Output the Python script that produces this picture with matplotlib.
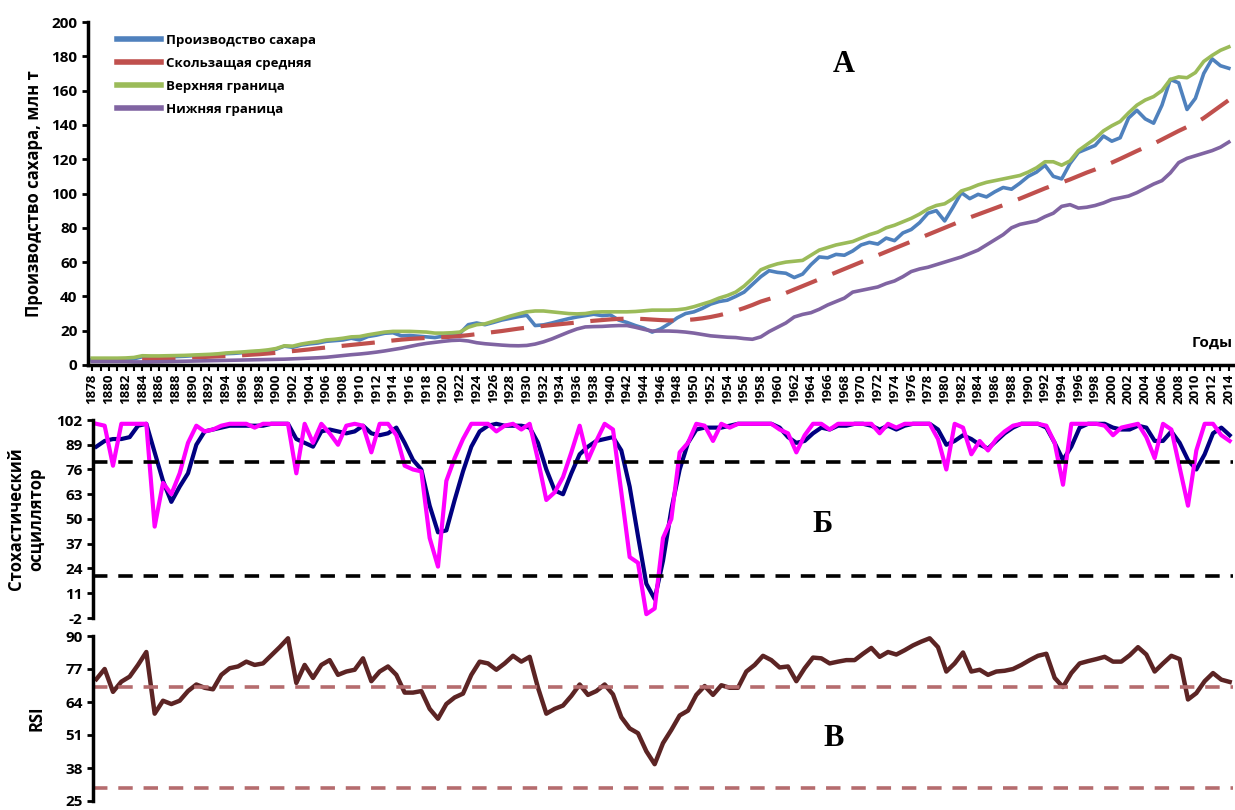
import numpy as np
import matplotlib
matplotlib.use("Agg")
import matplotlib.pyplot as plt

plt.rcParams['font.family'] = ['Open Sans', 'DejaVu Sans']
plt.rcParams['font.weight'] = 'bold'
plt.rcParams['axes.unicode_minus'] = False

years = list(range(1878, 2015))

# Panel A: sugar production, mln t
production = [
    3.0, 3.1, 3.2, 3.3, 3.4, 3.6, 4.8, 4.2, 4.6, 4.8, 4.9, 5.1,
    5.4, 5.6, 5.8, 6.1, 6.6, 6.8, 7.2, 7.6, 7.9, 8.4,
    9.2, 11.0, 10.3, 11.6, 12.3, 12.8, 13.8, 14.2, 14.6, 15.6,
    14.6, 16.6, 17.4, 18.5, 18.8, 17.0, 17.2, 16.8, 16.4, 16.0,
    16.8, 17.2, 18.4, 23.5, 24.5, 23.5, 24.8, 26.2, 27.2, 28.2,
    29.0, 23.0, 23.4, 24.5, 25.8, 27.0, 28.0, 28.8, 29.6, 28.8,
    29.2, 26.2, 24.8, 23.0, 21.5, 19.2, 21.0, 24.0, 27.5, 30.0,
    31.0, 33.0, 35.5, 37.0, 37.8, 40.0, 42.5, 47.0, 51.5, 55.0,
    54.0, 53.5, 51.0, 53.0, 58.5, 63.0, 62.5, 64.5, 64.0, 66.5,
    70.0, 71.5, 70.5, 74.0, 72.5, 77.0, 79.0, 83.0, 88.5, 90.0,
    84.0, 92.0, 100.5, 97.0, 99.5, 98.0, 101.0, 103.5, 102.5, 106.0,
    110.0, 112.5, 116.5, 110.0, 108.5, 117.5, 124.0, 126.0, 128.0, 133.5,
    130.5, 132.5, 144.0, 148.5, 143.5, 141.0, 151.5, 166.5, 164.5, 149.0,
    155.5, 170.0, 178.5, 174.5, 173.0]

moving_avg = [
    2.5, 2.6, 2.7, 2.8, 2.9, 3.0, 3.2, 3.4, 3.6, 3.8, 4.0, 4.2,
    4.4, 4.6, 4.8, 5.0, 5.2, 5.4, 5.7, 6.0, 6.3, 6.7,
    7.1, 7.6, 8.1, 8.6, 9.1, 9.7, 10.2, 10.7, 11.2, 11.7,
    12.2, 12.7, 13.2, 13.8, 14.3, 14.8, 15.2, 15.5, 15.8, 16.0,
    16.2, 16.5, 16.9, 17.4, 18.0, 18.6, 19.2, 19.8, 20.5, 21.2,
    21.8, 22.3, 22.8, 23.3, 23.8, 24.3, 24.8, 25.3, 25.8, 26.2,
    26.6, 26.9, 27.0, 27.0, 26.8, 26.5, 26.2, 26.0, 26.0, 26.2,
    26.6, 27.2, 28.0, 29.0, 30.2, 31.6, 33.2, 35.0, 37.0, 38.5,
    40.0, 42.0, 44.0, 46.0, 48.0, 50.0, 52.0, 54.0, 56.0, 58.0,
    60.0, 62.0, 64.0, 66.0, 68.0, 70.0, 72.0, 74.0, 76.0, 78.0,
    80.0, 82.0, 84.0, 86.0, 87.8, 89.6, 91.4, 93.2, 95.2, 97.0,
    99.0, 101.0, 103.0, 104.8, 106.4, 108.2, 110.2, 112.2, 114.0, 116.0,
    118.0, 120.2, 122.5, 124.8, 127.0, 129.0, 131.5, 134.0, 136.5, 138.8,
    141.0, 144.0, 147.5, 151.0, 154.5]

upper_band = [
    4.0, 4.0, 4.0, 4.0, 4.1, 4.4, 5.4, 5.3, 5.3, 5.4, 5.5, 5.6,
    5.8, 6.0, 6.2, 6.5, 7.0, 7.3, 7.6, 8.0, 8.3, 8.8,
    9.6, 11.2, 11.0, 12.2, 13.0, 13.6, 14.6, 15.0, 15.6, 16.4,
    16.6, 17.6, 18.4, 19.2, 19.6, 19.6, 19.6, 19.4, 19.2, 18.6,
    18.6, 18.8, 19.2, 22.0, 23.5, 24.0, 25.5, 27.0, 28.5, 29.8,
    31.0, 31.5, 31.5, 31.0, 30.5, 30.0, 29.8, 30.0, 30.8, 31.0,
    31.0, 31.0, 31.0, 31.2, 31.6, 32.0, 32.0, 32.0, 32.2, 32.8,
    34.0, 35.5, 37.0, 39.0, 40.5, 42.5, 46.0, 50.5, 55.5, 57.5,
    59.0, 60.0, 60.5, 61.0, 64.0, 67.0, 68.5, 70.0, 71.0, 72.0,
    74.0, 76.0, 77.5, 80.0, 81.5, 83.5, 85.5, 88.0, 91.0, 93.0,
    94.0, 97.0, 101.5, 103.0, 105.0, 106.5, 107.5, 108.5, 109.5, 110.5,
    112.5, 115.0, 118.5, 118.5, 116.5, 119.0, 125.0, 128.5, 132.0, 136.5,
    139.5, 142.0, 147.0, 151.5, 154.5, 156.5, 160.0, 166.5, 168.0, 167.5,
    170.5, 177.0, 180.5, 183.5, 185.5]

lower_band = [
    2.0, 2.0, 2.0, 2.0, 2.0, 1.8, 1.8, 1.8, 1.9, 2.0, 2.1, 2.2,
    2.3, 2.4, 2.5, 2.6, 2.7, 2.8, 2.9, 3.0, 3.1, 3.2,
    3.3, 3.4, 3.6, 3.8, 4.0, 4.2, 4.5, 5.0, 5.5, 6.0,
    6.4, 6.9, 7.5, 8.2, 9.0, 9.8, 10.8, 11.8, 12.6, 13.2,
    13.8, 14.3, 14.5, 14.0, 13.0, 12.4, 12.0, 11.6, 11.3, 11.2,
    11.4, 12.2, 13.5, 15.2, 17.2, 19.2, 21.0, 22.2, 22.4, 22.5,
    22.8, 23.0, 23.0, 22.0, 20.8, 19.8, 19.8, 19.8, 19.6, 19.2,
    18.6, 17.8, 17.0, 16.6, 16.2, 16.0, 15.4, 15.0, 16.4, 19.5,
    22.0, 24.5, 28.0, 29.5, 30.5, 32.5, 35.0, 37.0, 39.0, 42.5,
    43.5, 44.5, 45.5, 47.5, 49.0, 51.5, 54.5, 56.0, 57.0, 58.5,
    60.0, 61.5, 63.0, 65.0, 67.0, 70.0, 73.0, 76.0, 80.0, 82.0,
    83.0, 84.0, 86.5, 88.5, 92.5, 93.5, 91.5, 92.0, 93.0, 94.5,
    96.5, 97.5, 98.5, 100.5, 103.0, 105.5, 107.5, 112.0, 118.0, 120.5,
    122.0, 123.5, 125.0, 127.0, 130.0]

# Panel B: stochastic oscillator
stoch_k = [
    100, 99, 78, 100, 100, 100, 100, 46, 69, 63, 74, 90,
    99, 96, 97, 99, 100, 100, 100, 98, 100, 100,
    100, 100, 74, 100, 90, 100, 95, 89, 99, 100,
    99, 85, 100, 100, 94, 78, 76, 75, 40, 25,
    70, 82, 92, 100, 100, 100, 96, 99, 100, 97,
    100, 81, 60, 64, 72, 85, 99, 81, 91, 100,
    97, 64, 30, 27, 0, 3, 40, 50, 85, 90,
    100, 99, 91, 100, 98, 100, 100, 100, 100, 100,
    97, 95, 85, 94, 100, 100, 97, 100, 100, 100,
    100, 100, 95, 100, 98, 100, 100, 100, 100, 92,
    76, 100, 98, 84, 91, 86, 92, 96, 99, 100,
    100, 100, 99, 90, 68, 100, 100, 100, 100, 99,
    94, 98, 99, 100, 93, 82, 100, 97, 77, 57,
    86, 100, 100, 94, 91]

stoch_d = [
    88, 91, 92, 92, 93, 99, 100, 85, 70, 59, 67, 74,
    89, 96, 97, 98, 99, 99, 99, 99, 99, 100,
    100, 100, 92, 90, 88, 96, 97, 96, 95, 96,
    99, 95, 94, 95, 98, 90, 81, 76, 57, 43,
    44, 60, 75, 88, 96, 99, 100, 99, 99, 99,
    98, 90, 76, 65, 63, 74, 84, 88, 91, 92,
    93, 86, 67, 41, 16, 8, 28, 55, 76, 90,
    97, 98, 98, 98, 99, 100, 100, 100, 100, 100,
    98, 93, 90, 91, 95, 98, 97, 99, 99, 100,
    100, 99, 97, 99, 97, 99, 100, 100, 100, 97,
    89, 91, 94, 92, 89, 87, 91, 95, 98, 100,
    100, 100, 98, 90, 81, 88, 98, 100, 100, 100,
    98, 97, 97, 99, 98, 91, 91, 96, 90, 81,
    76, 84, 95, 98, 94]

# Panel C: RSI
rsi = [
    73, 77, 68, 72, 74, 78.6, 83.7, 59.4, 64.5, 63.2, 64.5, 68.3,
    70.9, 69.6, 69, 74.7, 77.3, 78, 79.9, 78.6, 79.2, 82.4,
    85.6, 89.1, 71.5, 78.6, 73.5, 78.6, 80.5, 74.7, 76, 76.7,
    81.2, 72.2, 76, 78, 74.7, 67.7, 67.7, 68.3, 61.3, 57.4,
    63.2, 65.8, 67.3, 74.7, 79.9, 79.2, 76.7, 79.2, 82.2, 79.9,
    81.8, 69.6, 59.4, 61.3, 62.6, 66.4, 70.9, 66.8, 68.3, 70.9,
    67, 58, 53.6, 51.7, 44.6, 39.5, 47.8, 53, 58.7, 60.6,
    66.8, 70.3, 66.8, 70.6, 69.6, 69.6, 76, 78.6, 82.2, 80.5,
    77.6, 78, 72.2, 77.3, 81.5, 81.2, 79.2, 79.9, 80.5, 80.5,
    83, 85.3, 81.8, 83.7, 82.7, 84.4, 86.3, 87.8, 89.1, 85.6,
    76, 79.2, 83.5, 76, 76.7, 74.7, 76, 76.3, 77, 78.6,
    80.5, 82.2, 83, 73.5, 69.9, 75.4, 79.2, 80.1, 80.9, 81.8,
    79.9, 79.9, 82.4, 85.6, 82.7, 76, 79.2, 82.2, 80.9, 65,
    67.5, 72.2, 75.4, 72.8, 71.9]

W, H = 1235, 810
fig = plt.figure(figsize=(W / 100, H / 100), dpi=100)


def box(x0, y0, x1, y1):
    return [x0 / W, 1 - y1 / H, (x1 - x0) / W, (y1 - y0) / H]


# ---- panel A
ax1 = fig.add_axes(box(88, 22, 1233, 365))
ax1.plot(years, production, color='#4F81BD', lw=2.6, label='Производство сахара')
ax1.plot(years, moving_avg, color='#C0504D', lw=3.0, dashes=(8, 4), label='Скользащая средняя')
ax1.plot(years, upper_band, color='#9BBB59', lw=2.6, label='Верхняя граница')
ax1.plot(years, lower_band, color='#8064A2', lw=2.6, label='Нижняя граница')
ax1.set_xlim(1877.5, 2014.5)
ax1.set_ylim(0, 200)
ax1.set_yticks(range(0, 201, 20))
ax1.set_xticks(years)
ax1.set_xticklabels([str(y) if (y - 1878) % 2 == 0 else '' for y in years],
                    rotation=90, fontsize=9.5, fontweight='bold')
ax1.tick_params(axis='x', length=4, width=1.5, pad=2)
ax1.tick_params(axis='y', length=4, width=2, labelsize=11)
ax1.spines['top'].set_visible(False)
ax1.spines['right'].set_visible(False)
ax1.spines['left'].set_linewidth(2.5)
ax1.spines['bottom'].set_linewidth(2.5)
ax1.set_ylabel('Производство сахара, млн т', fontsize=12, fontweight='bold', labelpad=6)
leg = ax1.legend(loc='upper left', bbox_to_anchor=(0.015, 1.0), frameon=False,
                 prop={'size': 9.5, 'weight': 'bold'}, handlelength=3.3,
                 labelspacing=0.75, handletextpad=0.4)
for h in leg.get_lines():
    h.set_linestyle('-')
    h.set_linewidth(4)
ax1.text(1.0, 0.045, 'Годы', transform=ax1.transAxes, ha='right', va='bottom',
         fontsize=11, fontweight='bold')
ax1.text(0.66, 0.875, 'А', transform=ax1.transAxes, ha='center', va='center',
         fontsize=22, fontweight='bold', family='Liberation Serif')

# ---- panel B
ax2 = fig.add_axes(box(93, 420, 1233, 618))
ax2.plot(years, stoch_d, color='#000080', lw=3.0)
ax2.plot(years, stoch_k, color='#FF00FF', lw=3.0)
ax2.axhline(80, color='black', lw=2.6, dashes=(4, 3))
ax2.axhline(20, color='black', lw=2.6, dashes=(4, 3))
ax2.set_xlim(1877.6, 2014.4)
ax2.set_ylim(-2, 102)
ax2.set_yticks([-2, 11, 24, 37, 50, 63, 76, 89, 102])
ax2.set_xticks([])
for s in ['top', 'right', 'bottom']:
    ax2.spines[s].set_visible(False)
ax2.spines['left'].set_linewidth(2.5)
ax2.tick_params(axis='y', length=4, width=2, labelsize=11)
ax2.set_ylabel('Стохастический\nосциллятор', fontsize=12, fontweight='bold', labelpad=8)
ax2.text(0.64, 0.47, 'Б', transform=ax2.transAxes, ha='center', va='center',
         fontsize=22, fontweight='bold', family='Liberation Serif')

# ---- panel C
ax3 = fig.add_axes(box(93, 636, 1233, 801))
ax3.plot(years, rsi, color='#5C2424', lw=3.2)
ax3.axhline(70, color='#B56C6E', lw=2.6, dashes=(4, 3))
ax3.axhline(30, color='#B56C6E', lw=2.6, dashes=(4, 3))
ax3.set_xlim(1877.6, 2014.4)
ax3.set_ylim(25, 90)
ax3.set_yticks([25, 38, 51, 64, 77, 90])
ax3.set_xticks([])
for s in ['top', 'right', 'bottom']:
    ax3.spines[s].set_visible(False)
ax3.spines['left'].set_linewidth(2.5)
ax3.tick_params(axis='y', length=4, width=2, labelsize=11)
ax3.set_ylabel('RSI', fontsize=12, fontweight='bold', labelpad=14)
ax3.text(0.65, 0.38, 'В', transform=ax3.transAxes, ha='center', va='center',
         fontsize=22, fontweight='bold', family='Liberation Serif')

fig.savefig('out.png', dpi=100)
